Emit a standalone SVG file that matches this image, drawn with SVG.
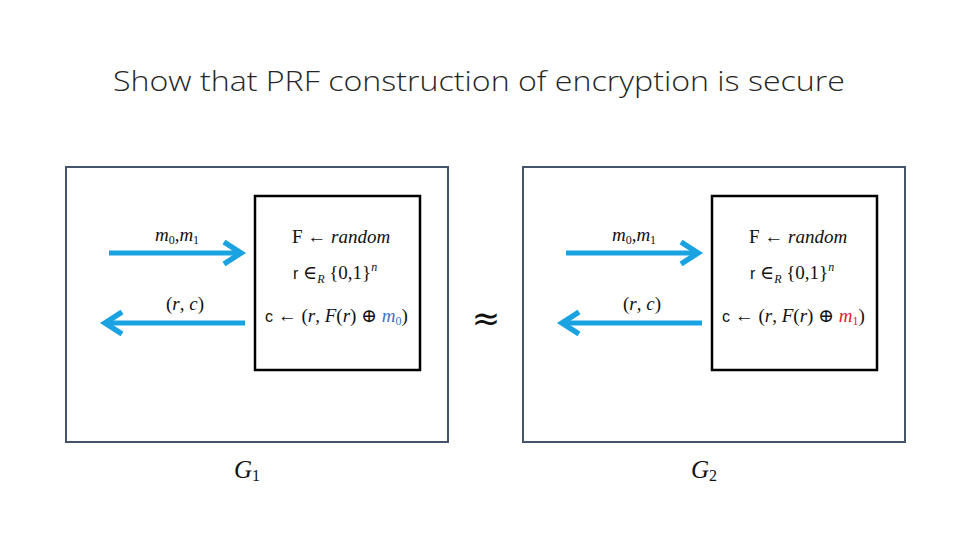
<svg xmlns="http://www.w3.org/2000/svg" width="960" height="540" viewBox="0 0 960 540">
<defs>
<style>
.title{font-family:"Open Sans","Liberation Sans",Arial,sans-serif;font-weight:300;font-size:28px;fill:#262626;}
.outer{fill:none;stroke:#44546A;stroke-width:2;}
.inner{fill:#fff;stroke:#000;stroke-width:2.5;}
.arrow{fill:none;stroke:#1AA3E0;stroke-width:5;}
.head{fill:none;stroke:#1AA3E0;stroke-width:5.5;stroke-linecap:butt;stroke-linejoin:miter;}
.math{font-family:"Liberation Serif","DejaVu Serif",serif;font-size:19px;fill:#111;}
.it{font-style:italic;}
.up{font-family:"Liberation Sans",Arial,sans-serif;font-style:normal;}
.sub{font-size:12px;}
.g{font-family:"Liberation Serif",serif;font-style:italic;font-size:25px;fill:#111;}
</style>
</defs>
<rect width="960" height="540" fill="#fff"/>
<text class="title" x="479" y="91" text-anchor="middle" textLength="732" lengthAdjust="spacingAndGlyphs">Show that PRF construction of encryption is secure</text>

<g id="game1">
<rect class="outer" x="66" y="167" width="382" height="275"/>
<g id="box1">
<rect class="inner" x="255" y="196" width="165" height="174"/>
<text class="math" x="292" y="243">F <tspan>←</tspan> <tspan class="it">random</tspan></text>
<text class="math" x="293" y="279"><tspan class="up" font-size="16">r</tspan> ∈<tspan class="it sub" dy="4">R</tspan> <tspan dy="-4">{0,1}</tspan><tspan class="it sub" dy="-8">n</tspan></text>
<text class="math" x="265" y="322"><tspan class="up" font-size="16">c</tspan> ← (<tspan class="it">r</tspan>, <tspan class="it">F</tspan>(<tspan class="it">r</tspan>) ⊕ <tspan class="it" fill="#4472C4">m</tspan><tspan class="sub" fill="#4472C4" dy="3">0</tspan><tspan dy="-3">)</tspan></text>
</g>
<g id="label-m1">
<text class="math" x="177" y="241" text-anchor="middle"><tspan class="it">m</tspan><tspan class="sub" dy="3">0</tspan><tspan dy="-3">,</tspan><tspan class="it">m</tspan><tspan class="sub" dy="3">1</tspan></text>
</g>
<g id="label-rc1">
<text class="math" x="185" y="310" text-anchor="middle">(<tspan class="it">r</tspan>, <tspan class="it">c</tspan>)</text>
</g>
<text class="g" x="234" y="478">G<tspan font-style="normal" font-size="16" dy="3">1</tspan></text>
</g>

<g id="game2">
<rect class="outer" x="523" y="167" width="382" height="275"/>
<g id="box2">
<rect class="inner" x="712" y="196" width="165" height="174"/>
<text class="math" x="749" y="243">F <tspan>←</tspan> <tspan class="it">random</tspan></text>
<text class="math" x="750" y="279"><tspan class="up" font-size="16">r</tspan> ∈<tspan class="it sub" dy="4">R</tspan> <tspan dy="-4">{0,1}</tspan><tspan class="it sub" dy="-8">n</tspan></text>
<text class="math" x="722" y="322"><tspan class="up" font-size="16">c</tspan> ← (<tspan class="it">r</tspan>, <tspan class="it">F</tspan>(<tspan class="it">r</tspan>) ⊕ <tspan class="it" fill="#E0202A">m</tspan><tspan class="sub" fill="#E0202A" dy="3">1</tspan><tspan dy="-3">)</tspan></text>
</g>
<g id="label-m2">
<text class="math" x="634" y="241" text-anchor="middle"><tspan class="it">m</tspan><tspan class="sub" dy="3">0</tspan><tspan dy="-3">,</tspan><tspan class="it">m</tspan><tspan class="sub" dy="3">1</tspan></text>
</g>
<g id="label-rc2">
<text class="math" x="642" y="310" text-anchor="middle">(<tspan class="it">r</tspan>, <tspan class="it">c</tspan>)</text>
</g>
<text class="g" x="691" y="478">G<tspan font-style="normal" font-size="16" dy="3">2</tspan></text>
</g>

<text id="approx" x="486" y="330" text-anchor="middle" font-family="DejaVu Sans,sans-serif" font-size="34" fill="#111">≈</text>

<g id="connectors">
<line class="arrow" x1="109" y1="253" x2="241" y2="253"/>
<polyline class="head" points="224,242 241,253 224,264"/>
<line class="arrow" x1="245" y1="323" x2="105" y2="323"/>
<polyline class="head" points="122,312 105,323 122,334"/>
<line class="arrow" x1="566" y1="253" x2="698" y2="253"/>
<polyline class="head" points="681,242 698,253 681,264"/>
<line class="arrow" x1="702" y1="323" x2="562" y2="323"/>
<polyline class="head" points="579,312 562,323 579,334"/>
</g>
</svg>
